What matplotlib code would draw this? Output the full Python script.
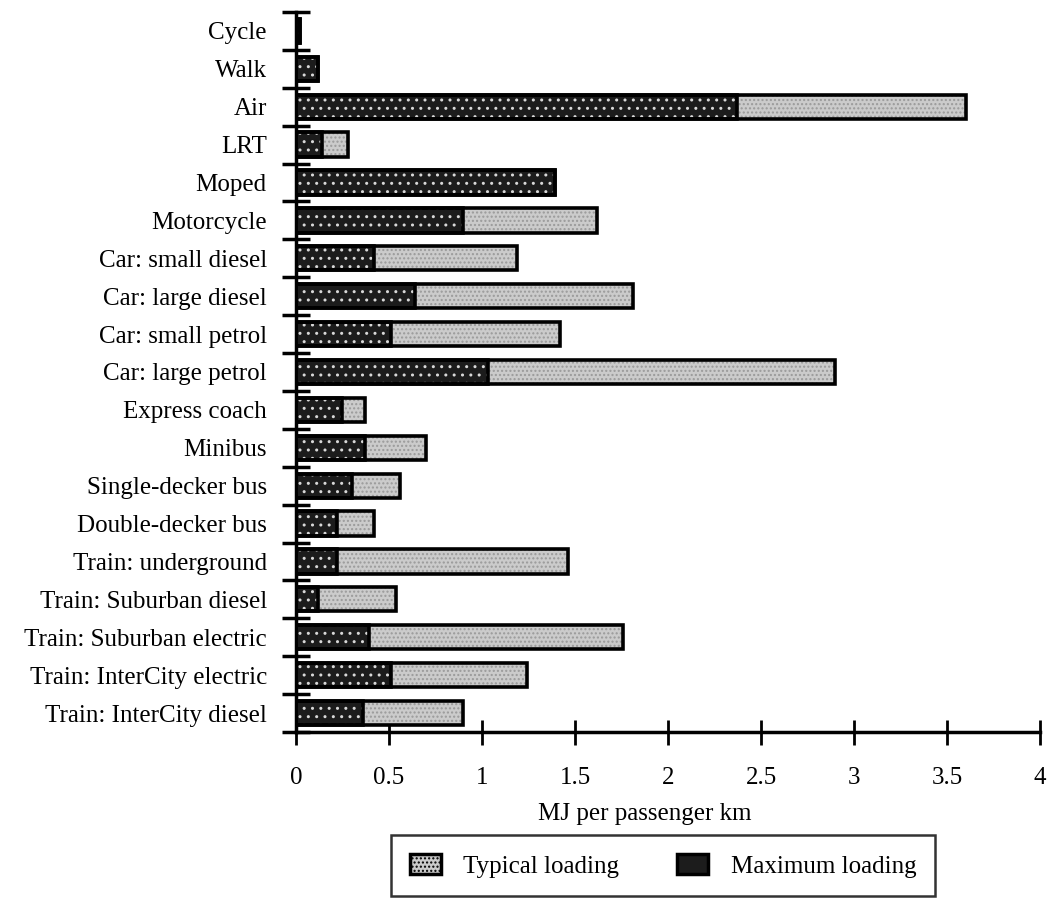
import matplotlib
matplotlib.use("Agg")
import matplotlib.pyplot as plt
from matplotlib.patches import Patch
import numpy as np

plt.rcParams["font.family"] = ["Liberation Serif", "DejaVu Serif"]

# categories listed top to bottom as in the original figure
modes = [
    "Cycle", "Walk", "Air", "LRT", "Moped", "Motorcycle",
    "Car: small diesel", "Car: large diesel", "Car: small petrol",
    "Car: large petrol", "Express coach", "Minibus", "Single-decker bus",
    "Double-decker bus", "Train: underground", "Train: Suburban diesel",
    "Train: Suburban electric", "Train: InterCity electric",
    "Train: InterCity diesel",
]
# MJ per passenger km
typical = [0.02, 0.12, 3.60, 0.28, 1.39, 1.62, 1.19, 1.81, 1.42, 2.90,
           0.37, 0.70, 0.56, 0.42, 1.46, 0.54, 1.76, 1.24, 0.90]
maximum = [0.02, 0.12, 2.37, 0.14, 1.39, 0.90, 0.42, 0.64, 0.51, 1.03,
           0.25, 0.37, 0.30, 0.22, 0.22, 0.12, 0.39, 0.51, 0.36]
xticks = [0, 0.5, 1, 1.5, 2, 2.5, 3, 3.5, 4]
xticklabels = ["0", "0.5", "1", "1.5", "2", "2.5", "3", "3.5", "4"]

LIGHT = "#cbcbcb"
DARK = "#1c1c1c"
FS = 18

fig = plt.figure(figsize=(10.48, 9.01), dpi=100)
ax = fig.add_axes([0.2824, 0.1876, 0.7100, 0.7991])

n = len(modes)
y = np.arange(n)[::-1]
h = 0.64

# typical loading (full length, light halftone)
ax.barh(y, typical, height=h, color=LIGHT, edgecolor="#9a9a9a",
        hatch="....", linewidth=0, zorder=2)
ax.barh(y, typical, height=h, color="none", edgecolor="black",
        linewidth=2.6, zorder=4)
# maximum loading (dark with white dots) drawn over it
ax.barh(y, maximum, height=h, color=DARK, edgecolor="#d8d8d8",
        hatch="..", linewidth=0, zorder=3)
ax.barh(y, maximum, height=h, color="none", edgecolor="black",
        linewidth=2.6, zorder=4)

ax.set_xlim(0, 4)
ax.set_ylim(-0.5, n - 0.5)

ax.set_yticks(y)
ax.set_yticklabels(modes, fontsize=FS)
ax.set_yticks(np.arange(n + 1) - 0.5, minor=True)
ax.tick_params(axis="y", which="major", length=0, pad=21)
ax.tick_params(axis="y", which="minor", direction="inout", length=20,
               width=2.5)

ax.set_xticks(xticks)
ax.set_xticklabels(xticklabels, fontsize=FS)
ax.tick_params(axis="x", which="major", direction="inout", length=18,
               width=2, pad=16)

ax.set_xlabel("MJ per passenger km", fontsize=FS)
ax.xaxis.set_label_coords(0.469, -0.098)

for side in ("top", "right"):
    ax.spines[side].set_visible(False)
for side in ("left", "bottom"):
    ax.spines[side].set_linewidth(2.5)

handles = [
    Patch(facecolor=LIGHT, edgecolor="black", linewidth=2.5, hatch="...."),
    Patch(facecolor=DARK, edgecolor="black", linewidth=2.5),
]
leg = fig.legend(handles, ["Typical loading", "Maximum loading"],
                 loc="center", bbox_to_anchor=(663 / 1048, 1 - 865.5 / 901),
                 ncol=2, fontsize=FS, frameon=True, fancybox=False,
                 handlelength=1.25, handleheight=0.9, handletextpad=0.9,
                 columnspacing=2.3, borderpad=0.75, borderaxespad=0)
leg.get_frame().set_edgecolor("black")
leg.get_frame().set_linewidth(1.8)

fig.savefig("out.png", dpi=100)
